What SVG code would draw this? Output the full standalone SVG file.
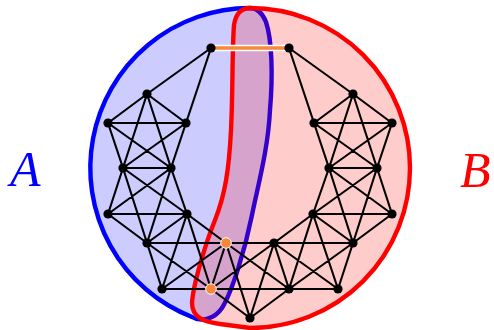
<svg xmlns="http://www.w3.org/2000/svg" width="494" height="330" viewBox="0 0 494 330">
<defs>
<style>
.regA{fill:rgba(0,0,255,0.2);stroke:#0000ff;stroke-width:4.4;stroke-linejoin:round}
.regB{fill:rgba(255,0,0,0.2);stroke:#ff0000;stroke-width:4.4;stroke-linejoin:round}
.e{stroke:#000;stroke-width:2.1;fill:none;stroke-linecap:round}
.n{fill:#000}
.o{fill:#f7883a;stroke:#fff;stroke-width:1}
.lbl{font-family:"Liberation Serif",serif;font-style:italic;font-size:50px}
</style>
</defs>
<rect width="494" height="330" fill="#fff"/>
<g id="setA">
<path class="regA" d="M250,8 A160,160 0 0 0 192,317 C200,322 214,320 222,308 C232,292 245,250 252,215 C258,185 268,150 270,110 C273,75 272,40 266,22 C262,12 257,8 250,8 Z"/>
</g>
<g id="setB">
<path class="regB" d="M250,8 A160,160 0 0 1 410,168 A160,160 0 0 1 250,328 L220,324 C205,322 192,318 192,303 C193,285 205,245 215,220 C225,195 229,170 231,130 C233,90 232,50 234,25 C236,12 242,8 250,8 Z"/>
</g>
<g id="connectors">
<line x1="211" y1="48" x2="289" y2="48" stroke="#fff" stroke-width="6.5"/>
<line x1="211" y1="48" x2="289" y2="48" stroke="#f7883a" stroke-width="3.6"/>
<path class="e" d="M211,48L147,94M211,48L186,123
M147,94L108,123M147,94L186,123M108,123L186,123M108,123L123,168M186,123L171,168M123,168L171,168M147,94L123,168M147,94L171,168M108,123L171,168M186,123L123,168
M123,168L108,214M123,168L187,214M123,168L147,243M171,168L108,214M171,168L187,214M171,168L147,243M108,214L187,214M108,214L147,243M187,214L147,243
M187,214L226,243M187,214L162,289M187,214L211,289M147,243L226,243M147,243L162,289M147,243L211,289M226,243L162,289M226,243L211,289M162,289L211,289
M289,48L353,94M289,48L314,123
M353,94L392,123M353,94L314,123M392,123L314,123M392,123L377,168M314,123L329,168M377,168L329,168M353,94L377,168M353,94L329,168M392,123L329,168M314,123L377,168
M377,168L392,214M377,168L313,214M377,168L353,243M329,168L392,214M329,168L313,214M329,168L353,243M392,214L313,214M392,214L353,243M313,214L353,243
M313,214L274,243M313,214L338,289M313,214L289,289M353,243L274,243M353,243L338,289M353,243L289,289M274,243L338,289M274,243L289,289M338,289L289,289
M226,243L274,243M211,289L289,289M226,243L211,289M274,243L289,289M226,243L250,318M211,289L250,318M274,243L250,318M289,289L250,318M226,243L289,289M211,289L274,243"/>
</g>
<g id="nodes">
<circle id="L0" class="n" cx="211" cy="48" r="4.6"/>
<circle id="a1" class="n" cx="147" cy="94" r="4.6"/>
<circle id="a2" class="n" cx="108" cy="123" r="4.6"/>
<circle id="a3" class="n" cx="186" cy="123" r="4.6"/>
<circle id="a4" class="n" cx="123" cy="168" r="4.6"/>
<circle id="a5" class="n" cx="171" cy="168" r="4.6"/>
<circle id="b1" class="n" cx="108" cy="214" r="4.6"/>
<circle id="b2" class="n" cx="187" cy="214" r="4.6"/>
<circle id="b3" class="n" cx="147" cy="243" r="4.6"/>
<circle id="c2" class="n" cx="162" cy="289" r="4.6"/>
<circle id="d" class="n" cx="250" cy="318" r="4.6"/>
<circle id="R0" class="n" cx="289" cy="48" r="4.6"/>
<circle id="a1r" class="n" cx="353" cy="94" r="4.6"/>
<circle id="a2r" class="n" cx="392" cy="123" r="4.6"/>
<circle id="a3r" class="n" cx="314" cy="123" r="4.6"/>
<circle id="a4r" class="n" cx="377" cy="168" r="4.6"/>
<circle id="a5r" class="n" cx="329" cy="168" r="4.6"/>
<circle id="b1r" class="n" cx="392" cy="214" r="4.6"/>
<circle id="b2r" class="n" cx="313" cy="214" r="4.6"/>
<circle id="b3r" class="n" cx="353" cy="243" r="4.6"/>
<circle id="c1r" class="n" cx="274" cy="243" r="4.6"/>
<circle id="c2r" class="n" cx="338" cy="289" r="4.6"/>
<circle id="c3r" class="n" cx="289" cy="289" r="4.6"/>
<circle id="c1" class="o" cx="226" cy="243" r="5.3"/>
<circle id="c3" class="o" cx="211" cy="289" r="5.3"/>
</g>
<g id="labels">
<text class="lbl" x="10" y="186" fill="#0000ff">A</text>
<text class="lbl" x="460" y="187" fill="#ff0000">B</text>
</g>
</svg>
